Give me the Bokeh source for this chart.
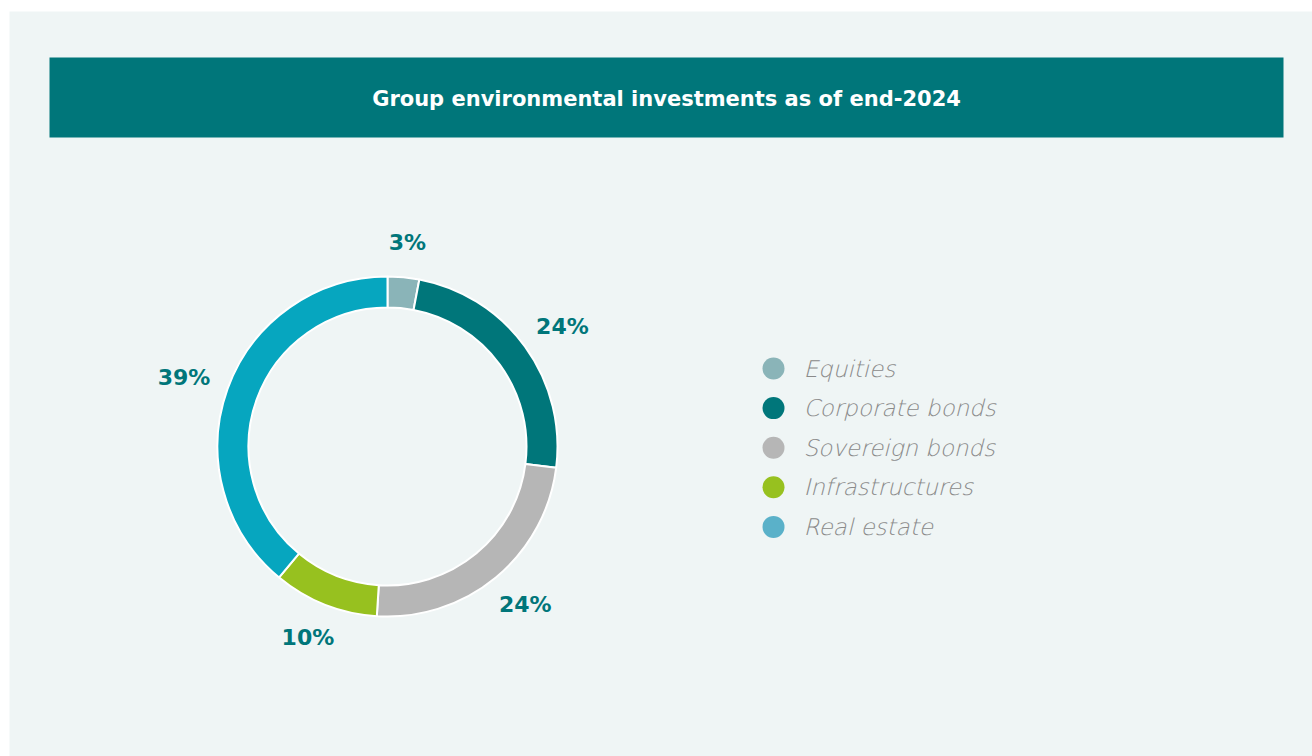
import math
from bokeh.plotting import figure
from bokeh.models import Range1d, ColumnDataSource
from bokeh.core.properties import value
from bokeh.embed import file_html
from bokeh.resources import INLINE

# ---- data ----
title = "Group environmental investments as of end-2024"
categories = ["Equities", "Corporate bonds", "Sovereign bonds", "Infrastructures", "Real estate"]
shares = [3, 24, 24, 10, 39]
labels = ["3%", "24%", "24%", "10%", "39%"]
ring_colors = ["#8ab4b8", "#00767a", "#b6b6b6", "#97c11f", "#06a6bf"]
legend_colors = ["#8ab4b8", "#00767a", "#b6b6b6", "#97c11f", "#5ab1c9"]

W, H = 1312, 756
p = figure(width=W, height=H, x_range=Range1d(0, W), y_range=Range1d(0, H),
           output_backend="svg", toolbar_location=None, min_border=0)
p.axis.visible = False
p.grid.visible = False
p.outline_line_color = None
p.background_fill_color = "white"
p.border_fill_color = "white"

def Y(screen_y):
    return H - screen_y

def X(screen_x):
    return screen_x

# panel
p.quad(left=X(9), right=W, bottom=0, top=Y(11), fill_color="#eff5f5", line_color=None)
# title bar
p.quad(left=X(49), right=X(1283), bottom=Y(137), top=Y(57), fill_color="#00767a", line_color=None)
p.text(x=[(X(49) + X(1283)) / 2], y=[Y(98)], text=[title], text_color="white",
       text_font=value("DejaVu Sans"), text_font_style="bold", text_font_size="21px",
       text_align="center", text_baseline="middle")

# donut
cx, cy = X(387), Y(446)
total = sum(shares)
starts, ends, mids = [], [], []
acc = 0
for s in shares:
    a0 = math.pi / 2 - 2 * math.pi * acc / total
    acc += s
    a1 = math.pi / 2 - 2 * math.pi * acc / total
    starts.append(a0)
    ends.append(a1)
    mids.append((a0 + a1) / 2)

src = ColumnDataSource(dict(start=starts, end=ends, color=ring_colors))
p.annular_wedge(x=cx, y=cy, inner_radius=139, outer_radius=170, start_angle="start",
                end_angle="end", direction="clock", fill_color="color",
                line_color="white", line_width=2, source=src)

# labels outside the ring: anchor at fixed distance, shifted by half the text box
r_lab = 197
fs = 22
lx, ly = [], []
for m, t in zip(mids, labels):
    ux, uy = math.cos(m), math.sin(m)
    half_w = len(t) * 0.4 * fs / 2 + 6
    half_h = 8
    lx.append(cx + r_lab * ux + half_w * ux)
    ly.append(cy + r_lab * uy + half_h * uy)
p.text(x=lx, y=ly, text=labels, text_color="#00767a", text_font=value("DejaVu Sans"),
       text_font_style="bold", text_font_size=f"{fs}px", text_align="center",
       text_baseline="middle")

# legend
leg_y = [Y(368 + 39.6 * i) for i in range(len(categories))]
p.scatter(x=[X(773)] * len(categories), y=leg_y, size=22, marker="circle",
          fill_color=legend_colors, line_color=None)
p.text(x=[X(803)] * len(categories), y=leg_y, text=categories, text_color="#8a8a8a",
       text_font=value("DejaVu Sans Light"), text_font_style="italic", text_font_size="23px",
       text_align="left", text_baseline="middle")

open("out.html", "w").write(file_html(p, INLINE))
